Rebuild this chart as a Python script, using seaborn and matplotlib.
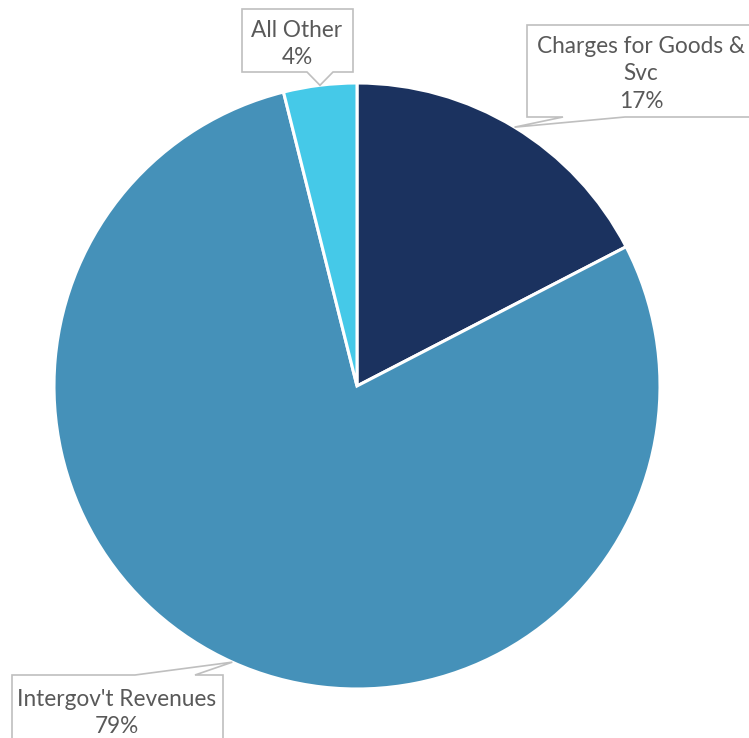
import matplotlib
matplotlib.use("Agg")
import matplotlib.pyplot as plt
from matplotlib.patches import Polygon
import numpy as np
import seaborn as sns

# Revenue mix by source (percent of total)
categories = ["Charges for Goods &\nSvc", "Intergov't Revenues", "All Other"]
shares = [17.4, 78.7, 3.9]
colors = ["#1B325F", "#4591B9", "#45C9E8"]

sns.set_theme(style="white")
plt.rcParams["font.family"] = ["Lato", "DejaVu Sans"]

W, H = 749, 738
fig = plt.figure(figsize=(W / 100, H / 100), dpi=100)
ax = fig.add_axes([0, 0, 1, 1])

center = (357, 386)
radius = 303

# y axis runs downward, so startangle=-90 with counterclock=True starts at
# twelve o'clock and proceeds clockwise on screen.
ax.set_ylim(H, 0)
wedges, _ = ax.pie(
    shares,
    colors=colors,
    startangle=-90,
    counterclock=True,
    center=center,
    radius=radius,
    wedgeprops=dict(edgecolor="white", linewidth=2.2),
    frame=True,
)
ax.set_xlim(0, W)
ax.set_ylim(H, 0)
ax.set_aspect("equal")
ax.set_axis_off()


def rim_point(w):
    mid = np.deg2rad((w.theta1 + w.theta2) / 2)
    return (center[0] + radius * np.cos(mid), center[1] + radius * np.sin(mid))


def callout(box, side, base, tip, text, text_xy):
    x0, y0, x1, y1 = box
    a, b = base
    if side == "bottom":
        verts = [(x0, y0), (x1, y0), (x1, y1), (b, y1), tip, (a, y1), (x0, y1)]
    else:
        verts = [(x0, y0), (a, y0), tip, (b, y0), (x1, y0), (x1, y1), (x0, y1)]
    ax.add_patch(Polygon(verts, closed=True, facecolor="white",
                         edgecolor="#BFBFBF", linewidth=1.2, zorder=5))
    ax.text(text_xy[0], text_xy[1], text, ha="center", va="center",
            fontsize=16.3, color="#595959", linespacing=1.4, zorder=6)


labels = [f"{c}\n{s:.0f}%" for c, s in zip(categories, shares)]

# Charges for Goods & Svc
callout((527, 25, 770, 117), "bottom", (563, 625), rim_point(wedges[0]),
        labels[0], (641, 74))
# Intergov't Revenues
callout((12, 675, 223, 770), "top", (135, 195), rim_point(wedges[1]),
        labels[1], (117, 713))
# All Other
callout((242, 9, 353, 72), "bottom", (307, 333), rim_point(wedges[2]),
        labels[2], (297, 44))

fig.savefig("out.png", dpi=100, facecolor="white")
